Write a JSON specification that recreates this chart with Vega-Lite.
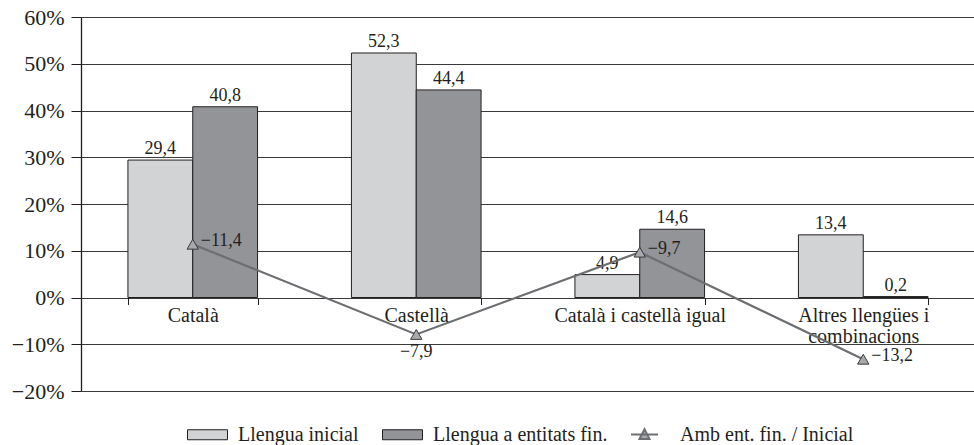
{
  "$schema": "https://vega.github.io/schema/vega-lite/v6.json",
  "width": 894,
  "height": 374,
  "autosize": {"type": "none"},
  "padding": {"left": 81, "top": 17, "right": 0, "bottom": 54},
  "background": "white",
  "config": {
    "locale": {"number": {"decimal": ",", "thousands": ".", "grouping": [3], "currency": ["", " €"]}},
    "font": "Liberation Serif, DejaVu Serif, serif",
    "view": {"stroke": null},
    "axis": {"labelFont": "Liberation Serif, DejaVu Serif, serif", "labelColor": "#231f20"},
    "legend": {"labelFont": "Liberation Serif, DejaVu Serif, serif", "labelLimit": 400},
    "text": {"font": "Liberation Serif, DejaVu Serif, serif"}
  },
  "datasets": {
    "barres": [
      {"categoria": "Català", "serie": "Llengua inicial", "valor": 29.4},
      {"categoria": "Català", "serie": "Llengua a entitats fin.", "valor": 40.8},
      {"categoria": "Castellà", "serie": "Llengua inicial", "valor": 52.3},
      {"categoria": "Castellà", "serie": "Llengua a entitats fin.", "valor": 44.4},
      {"categoria": "Català i castellà igual", "serie": "Llengua inicial", "valor": 4.9},
      {"categoria": "Català i castellà igual", "serie": "Llengua a entitats fin.", "valor": 14.6},
      {"categoria": "Altres llengües i combinacions", "serie": "Llengua inicial", "valor": 13.4},
      {"categoria": "Altres llengües i combinacions", "serie": "Llengua a entitats fin.", "valor": 0.2}
    ],
    "linia": [
      {"categoria": "Català", "serie": "Amb ent. fin. / Inicial", "valor": 11.4, "etiqueta": "−11,4"},
      {"categoria": "Castellà", "serie": "Amb ent. fin. / Inicial", "valor": -7.9, "etiqueta": "−7,9"},
      {"categoria": "Català i castellà igual", "serie": "Amb ent. fin. / Inicial", "valor": 9.7, "etiqueta": "−9,7"},
      {"categoria": "Altres llengües i combinacions", "serie": "Amb ent. fin. / Inicial", "valor": -13.2, "etiqueta": "−13,2"}
    ]
  },
  "encoding": {
    "x": {
      "field": "categoria",
      "type": "nominal",
      "sort": ["Català", "Castellà", "Català i castellà igual", "Altres llengües i combinacions"],
      "scale": {"paddingInner": 0.42, "paddingOuter": 0.21},
      "axis": {
        "title": null,
        "orient": "bottom",
        "offset": -93.5,
        "domain": false,
        "grid": false,
        "ticks": true,
        "tickBand": "extent",
        "tickSize": 7,
        "tickColor": "#231f20",
        "labelAngle": 0,
        "labelFont": "Liberation Serif, DejaVu Serif, serif",
        "labelFontSize": 20,
        "labelPadding": 1,
        "labelLineHeight": 21,
        "labelExpr": "datum.label == 'Altres llengües i combinacions' ? ['Altres llengües i', 'combinacions'] : datum.label"
      }
    },
    "y": {
      "field": "valor",
      "type": "quantitative",
      "scale": {"domain": [-20, 60], "nice": false, "zero": false},
      "axis": {
        "title": null,
        "values": [-20, -10, 0, 10, 20, 30, 40, 50, 60],
        "format": "d",
        "labelExpr": "datum.label + '%'",
        "labelFont": "Liberation Serif, DejaVu Serif, serif",
        "labelFontSize": 22,
        "labelPadding": 7,
        "tickSize": 10,
        "tickColor": "#231f20",
        "domainColor": "#231f20",
        "domainWidth": 1.3,
        "gridColor": "#3a3a3a",
        "gridWidth": 1,
        "gridOpacity": 1
      }
    }
  },
  "layer": [
    {
      "data": {"name": "barres"},
      "mark": {"type": "bar", "stroke": "#231f20", "strokeWidth": 1},
      "encoding": {
        "xOffset": {"field": "serie", "type": "nominal", "sort": ["Llengua inicial", "Llengua a entitats fin."], "scale": {"paddingInner": 0, "paddingOuter": 0}},
        "fill": {
          "field": "serie",
          "type": "nominal",
          "scale": {
            "domain": ["Llengua inicial", "Llengua a entitats fin."],
            "range": ["#d1d3d4", "#929497"]
          },
          "legend": {
            "title": null,
            "orient": "none",
            "direction": "horizontal",
            "legendX": 106,
            "legendY": 397,
            "labelFont": "Liberation Serif, DejaVu Serif, serif",
            "labelFontSize": 20,
            "labelColor": "#231f20",
            "labelLimit": 400,
            "symbolType": "M-1,-0.25H1V0.25H-1Z",
            "symbolSize": 1600,
            "symbolStrokeColor": "#231f20",
            "symbolStrokeWidth": 1,
            "symbolOffset": 0,
            "columnPadding": 21,
            "labelOffset": 10
          }
        }
      }
    },
    {
      "data": {"name": "barres"},
      "mark": {"type": "text", "baseline": "alphabetic", "dy": -6, "fontSize": 18, "color": "#231f20", "font": "Liberation Serif, DejaVu Serif, serif"},
      "encoding": {
        "xOffset": {"field": "serie", "type": "nominal", "sort": ["Llengua inicial", "Llengua a entitats fin."]},
        "text": {"field": "valor", "type": "quantitative", "format": ".1f"}
      }
    },
    {
      "data": {"name": "linia"},
      "mark": {"type": "line", "strokeWidth": 2.2},
      "encoding": {
        "stroke": {
          "field": "serie",
          "type": "nominal",
          "scale": {"domain": ["Amb ent. fin. / Inicial"], "range": ["#6d6e71"]},
          "legend": {
            "title": null,
            "orient": "none",
            "direction": "horizontal",
            "legendX": 549,
            "legendY": 403,
            "labelFont": "Liberation Serif, DejaVu Serif, serif",
            "labelFontSize": 20,
            "labelColor": "#231f20",
            "labelLimit": 400,
            "symbolType": "M-1,0H1M-0.37,0.33L0,-0.4L0.37,0.33Z",
            "symbolSize": 729,
            "symbolStrokeWidth": 2,
            "symbolOffset": 0,
            "labelOffset": 21,
            "encode": {"symbols": {"update": {"fill": {"value": "#a7a9ac"}, "fillOpacity": {"value": 1}}}}
          }
        }
      }
    },
    {
      "data": {"name": "linia"},
      "mark": {"type": "point", "shape": "triangle-up", "filled": true, "fill": "#a7a9ac", "stroke": "#3a3a3a", "strokeWidth": 1, "size": 130, "opacity": 1},
      "encoding": {}
    },
    {
      "data": {"name": "linia"},
      "transform": [{"filter": "datum.categoria != 'Castellà'"}],
      "mark": {"type": "text", "align": "left", "baseline": "middle", "dx": 8, "dy": -3, "fontSize": 18, "color": "#231f20", "font": "Liberation Serif, DejaVu Serif, serif"},
      "encoding": {"text": {"field": "etiqueta", "type": "nominal"}}
    },
    {
      "data": {"name": "linia"},
      "transform": [{"filter": "datum.categoria == 'Castellà'"}],
      "mark": {"type": "text", "align": "center", "baseline": "top", "dy": 9, "fontSize": 18, "color": "#231f20", "font": "Liberation Serif, DejaVu Serif, serif"},
      "encoding": {"text": {"field": "etiqueta", "type": "nominal"}}
    }
  ]
}
